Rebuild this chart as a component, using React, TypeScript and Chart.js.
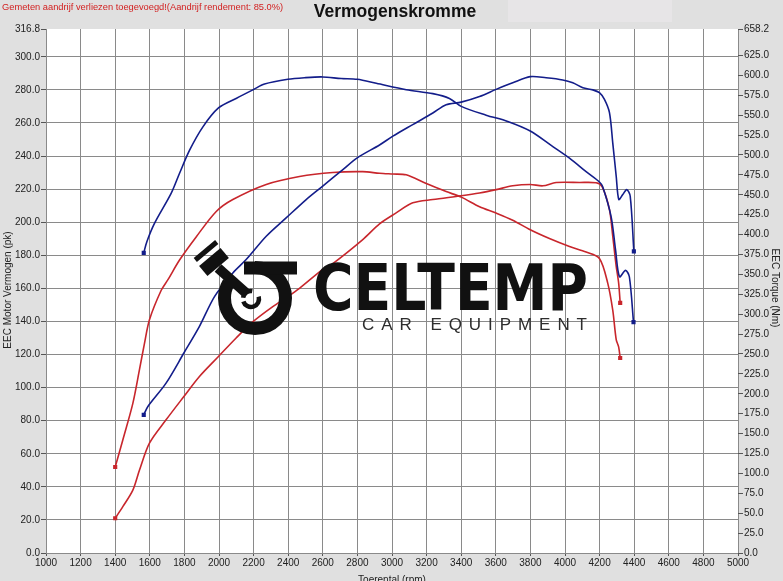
import React, { useEffect, useRef } from "react";
import { Chart, registerables } from "chart.js";

Chart.register(...registerables);

// ---------- data ----------
const xTickValues = [1000, 1200, 1400, 1600, 1800, 2000, 2200, 2400, 2600, 2800, 3000, 3200, 3400, 3600, 3800, 4000, 4200, 4400, 4600, 4800, 5000];
const leftTickValues = [0, 20, 40, 60, 80, 100, 120, 140, 160, 180, 200, 220, 240, 260, 280, 300, 316.8];
const rightTickValues = [0, 25, 50, 75, 100, 125, 150, 175, 200, 225, 250, 275, 300, 325, 350, 375, 400, 425, 450, 475, 500, 525, 550, 575, 600, 625, 658.2];

const bluePowerRpm = [1565, 1589, 1694, 1797, 1887, 1974, 2080, 2157, 2273, 2388, 2504, 2598, 2716, 2799, 2928, 3005, 3120, 3236, 3313, 3400, 3506, 3602, 3698, 3799, 3891, 3987, 4045, 4103, 4161, 4199, 4228, 4257, 4276, 4296, 4311, 4334, 4357, 4377, 4398];
const bluePowerPk = [83.5, 88.6, 102.7, 120.9, 137, 155, 169.3, 177.4, 191.5, 202.6, 213.7, 221.7, 231.8, 238.9, 246.7, 252, 259, 266, 271, 272.6, 276, 280.3, 284.3, 288, 287.3, 286, 284.3, 281.3, 280, 278.3, 274.2, 266.2, 248, 227.8, 213.7, 216.7, 219.7, 215.7, 182.4];

const blueTorqueRpm = [1565, 1583, 1627, 1724, 1772, 1830, 1906, 1997, 2099, 2198, 2263, 2398, 2494, 2598, 2706, 2799, 2909, 3082, 3236, 3332, 3400, 3544, 3669, 3799, 3920, 4026, 4122, 4199, 4218, 4267, 4292, 4315, 4350, 4372, 4396];
const blueTorqueNm = [377, 391, 414, 452, 477, 506, 535, 559, 571, 582, 589, 595, 597, 598, 596, 595, 590, 582, 577, 571, 561, 550, 542, 530, 512, 496, 479, 466, 460, 422, 381, 347, 355, 347, 290];

const redPowerRpm = [1400, 1444, 1502, 1540, 1598, 1694, 1797, 1887, 1997, 2099, 2198, 2311, 2398, 2465, 2598, 2658, 2831, 2928, 3024, 3120, 3236, 3400, 3506, 3602, 3698, 3799, 3872, 3949, 4084, 4180, 4215, 4257, 4276, 4296, 4310, 4319];
const redPowerPk = [21, 28, 38, 50, 66.4, 80.5, 94.6, 106.7, 118.8, 130, 140, 149, 155, 160, 171.3, 175, 189.5, 199, 205.6, 211.7, 213.7, 216, 217.7, 219.7, 222, 222.8, 222, 224, 224, 223.8, 221.4, 207.6, 191.5, 173.3, 163.3, 151.2];

const redTorqueRpm = [1400, 1444, 1502, 1540, 1569, 1598, 1666, 1704, 1772, 1868, 1984, 2080, 2273, 2465, 2658, 2831, 2928, 3005, 3082, 3198, 3313, 3400, 3506, 3602, 3698, 3799, 3910, 4026, 4122, 4199, 4247, 4276, 4296, 4310, 4319];
const redTorqueNm = [108, 142, 188, 230, 263, 293, 330, 343, 368, 397, 429, 444, 463, 473, 478, 479, 477, 476, 475, 464, 454, 447, 435, 427, 418, 406, 395, 385, 378, 370, 339, 305, 268, 259, 245];

const titleText = "Vermogenskromme";
const noteText = "Gemeten aandrijf verliezen toegevoegd!(Aandrijf rendement: 85.0%)";
const leftTitle = "EEC Motor Vermogen (pk)";
const rightTitle = "EEC Torque (Nm)";
const bottomTitle = "Toerental (rpm)";
const logoMain = "CELTEMP";
const logoSub = "CAR EQUIPMENT";

// ---------- styles ----------
const BLUE = "#131d8a";
const RED = "#c8262c";
const BG = "#e0e0e0";
const GRID = "#8a8a8a";
const FONT = '"Liberation Sans", Arial, sans-serif';

const zip = (xs: number[], ys: number[]) => xs.map((x, i) => ({ x, y: ys[i] }));

const endPoints = (n: number) => (ctx: any) => (ctx.dataIndex === 0 || ctx.dataIndex === n - 1 ? 1.8 : 0);

const bgPlugin = {
  id: "bg",
  beforeDraw(chart: any) {
    const { ctx, chartArea, width, height } = chart;
    ctx.save();
    ctx.fillStyle = BG;
    ctx.fillRect(0, 0, width, height);
    ctx.fillStyle = "#e7e5e7";
    ctx.fillRect(508, 0, 164, 22);
    ctx.fillStyle = "#ffffff";
    ctx.fillRect(chartArea.left, chartArea.top, chartArea.right - chartArea.left, chartArea.bottom - chartArea.top);
    ctx.restore();
  },
};

const logoPlugin = {
  id: "logo",
  afterDatasetsDraw(chart: any) {
    const ctx = chart.ctx as CanvasRenderingContext2D;
    ctx.save();
    ctx.fillStyle = "#111111";
    ctx.strokeStyle = "#111111";
    // ring
    ctx.lineWidth = 13;
    ctx.beginPath();
    ctx.arc(255, 298, 30.5, -Math.PI / 2, Math.PI * 1.17);
    ctx.stroke();
    ctx.fillRect(244, 261.5, 53, 13);
    // small ring
    ctx.lineWidth = 4.5;
    ctx.beginPath();
    ctx.arc(251, 299, 8, -0.3, Math.PI * 0.9);
    ctx.stroke();
    ctx.beginPath();
    ctx.arc(251, 299, 8, Math.PI * 1.05, Math.PI * 1.55);
    ctx.stroke();
    // rod
    ctx.lineWidth = 10;
    ctx.lineCap = "butt";
    ctx.beginPath();
    ctx.moveTo(218, 268);
    ctx.lineTo(246, 293);
    ctx.stroke();
    // piston
    const rect = (cx: number, cy: number, w: number, h: number, a: number) => {
      ctx.save();
      ctx.translate(cx, cy);
      ctx.rotate(a);
      ctx.fillRect(-w / 2, -h / 2, w, h);
      ctx.restore();
    };
    rect(206, 251, 28, 5, (-40 * Math.PI) / 180);
    rect(214, 262, 28, 13, (-40 * Math.PI) / 180);
    // text
    ctx.font = `bold 64px "DejaVu Sans", ${FONT}`;
    ctx.textBaseline = "alphabetic";
    ctx.textAlign = "left";
    ctx.fillText(logoMain, 313, 310, 275);
    ctx.fillStyle = "#2d2d2d";
    ctx.font = `17px ${FONT}`;
    const chars = logoSub.split("");
    const widths = chars.map((c) => ctx.measureText(c).width);
    const total = widths.reduce((a, b) => a + b, 0);
    const gap = (225 - total) / (chars.length - 1);
    let x = 362;
    chars.forEach((c, i) => {
      ctx.fillText(c, x, 329.5);
      x += widths[i] + gap;
    });
    ctx.restore();
  },
};

const textPlugin = {
  id: "texts",
  afterDraw(chart: any) {
    const ctx = chart.ctx as CanvasRenderingContext2D;
    ctx.save();
    ctx.textBaseline = "alphabetic";
    ctx.fillStyle = "#d21f1f";
    ctx.font = `9.3px ${FONT}`;
    ctx.textAlign = "left";
    ctx.fillText(noteText, 2, 10);
    ctx.fillStyle = "#111111";
    ctx.font = `bold 17.5px ${FONT}`;
    ctx.textAlign = "center";
    ctx.fillText(titleText, 395, 17);
    ctx.fillStyle = "#222222";
    ctx.font = `10px ${FONT}`;
    ctx.textBaseline = "middle";
    ctx.fillText(bottomTitle, 392, 580);
    ctx.save();
    ctx.translate(8, 290);
    ctx.rotate(-Math.PI / 2);
    ctx.fillText(leftTitle, 0, 0);
    ctx.restore();
    ctx.save();
    ctx.translate(775, 288);
    ctx.rotate(Math.PI / 2);
    ctx.fillText(rightTitle, 0, 0);
    ctx.restore();
    ctx.restore();
  },
};

export default function App() {
  const ref = useRef<HTMLCanvasElement | null>(null);
  useEffect(() => {
    if (!ref.current) return;
    const tickFont = { family: FONT, size: 10 };
    const chart = new Chart(ref.current, {
      type: "line",
      data: {
        datasets: [
          { label: "bluePower", data: zip(bluePowerRpm, bluePowerPk), yAxisID: "y", borderColor: BLUE, backgroundColor: BLUE, borderWidth: 1.6, pointRadius: endPoints(bluePowerRpm.length), pointStyle: "rect", tension: 0.3, fill: false },
          { label: "blueTorque", data: zip(blueTorqueRpm, blueTorqueNm), yAxisID: "y2", borderColor: BLUE, backgroundColor: BLUE, borderWidth: 1.6, pointRadius: endPoints(blueTorqueRpm.length), pointStyle: "rect", tension: 0.3, fill: false },
          { label: "redPower", data: zip(redPowerRpm, redPowerPk), yAxisID: "y", borderColor: RED, backgroundColor: RED, borderWidth: 1.6, pointRadius: endPoints(redPowerRpm.length), pointStyle: "rect", tension: 0.3, fill: false },
          { label: "redTorque", data: zip(redTorqueRpm, redTorqueNm), yAxisID: "y2", borderColor: RED, backgroundColor: RED, borderWidth: 1.6, pointRadius: endPoints(redTorqueRpm.length), pointStyle: "rect", tension: 0.3, fill: false },
        ],
      },
      options: {
        responsive: false,
        animation: false,
        layout: { padding: { top: 29, left: 0, right: 0, bottom: 0 } },
        plugins: { legend: { display: false }, tooltip: { enabled: false }, title: { display: false } },
        scales: {
          x: {
            type: "linear",
            min: 1000,
            max: 5000,
            afterBuildTicks: (s: any) => { s.ticks = xTickValues.map((v) => ({ value: v })); },
            afterFit: (s: any) => { s.height = 28; },
            ticks: { font: tickFont, color: "#222", padding: 1, maxRotation: 0, autoSkip: false, callback: (v: any) => String(v) },
            grid: { color: GRID, tickLength: 3, tickColor: "#555", lineWidth: 1 },
            border: { display: false },
          },
          y: {
            position: "left",
            min: 0,
            max: 316.8,
            afterBuildTicks: (s: any) => { s.ticks = leftTickValues.map((v) => ({ value: v })); },
            afterFit: (s: any) => { s.width = 46; },
            ticks: { font: tickFont, color: "#222", padding: 1, autoSkip: false, callback: (v: any) => Number(v).toFixed(1) },
            grid: { color: (c: any) => (c.tick && c.tick.value > 316 ? "rgba(0,0,0,0)" : GRID), tickLength: 5, tickColor: "#555", lineWidth: 1 },
            border: { display: false },
          },
          y2: {
            position: "right",
            min: 0,
            max: 658.2,
            afterBuildTicks: (s: any) => { s.ticks = rightTickValues.map((v) => ({ value: v })); },
            afterFit: (s: any) => { s.width = 45; },
            ticks: { font: tickFont, color: "#222", padding: 1, autoSkip: false, callback: (v: any) => Number(v).toFixed(1) },
            grid: { drawOnChartArea: false, tickLength: 5, tickColor: "#555" },
            border: { display: false },
          },
        },
      },
      plugins: [bgPlugin, logoPlugin, textPlugin],
    } as any);
    return () => chart.destroy();
  }, []);
  return (
    <div style={{ position: "fixed", left: 0, top: 0, width: 783, height: 581 }}>
      <canvas ref={ref} width={783} height={581} style={{ width: 783, height: 581, display: "block" }} />
    </div>
  );
}
